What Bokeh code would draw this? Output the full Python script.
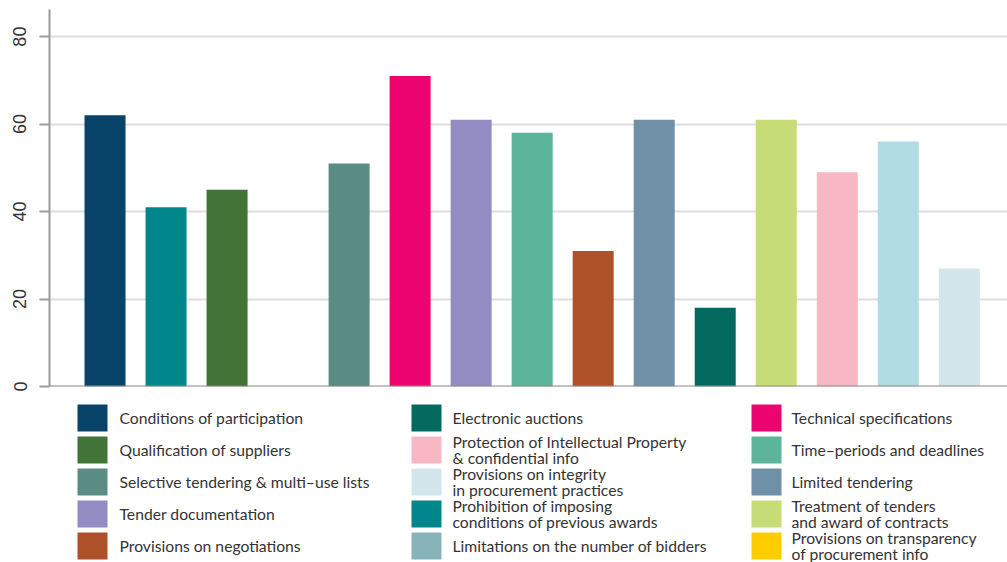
from bokeh.plotting import figure
from bokeh.models import Range1d, Span, ColumnDataSource, FixedTicker
from bokeh.layouts import column
from bokeh.embed import file_html
from bokeh.resources import INLINE
from bokeh.core.properties import value

# ---- data (bar order) ----
categories = [
    "Conditions of participation",
    "Prohibition of imposing conditions of previous awards",
    "Qualification of suppliers",
    "Provisions on transparency of procurement info",
    "Selective tendering & multi–use lists",
    "Technical specifications",
    "Tender documentation",
    "Time–periods and deadlines",
    "Provisions on negotiations",
    "Limited tendering",
    "Electronic auctions",
    "Treatment of tenders and award of contracts",
    "Protection of Intellectual Property & confidential info",
    "Limitations on the number of bidders",
    "Provisions on integrity in procurement practices",
]
values = [62, 41, 45, 0, 51, 71, 61, 58, 31, 61, 18, 61, 49, 56, 27]
bar_colors = ["#08436A", "#00868B", "#417436", "#FFCC00", "#5A8C83", "#EE0470",
              "#938CC3", "#5CB599", "#AF5128", "#7090A8", "#046A60", "#C6DC76",
              "#F8B8C3", "#AFDDE3", "#D3E6EC"]

# ---- legend (column-major, 3 columns x 5 rows) ----
legend_labels = [
    "Conditions of participation",
    "Qualification of suppliers",
    "Selective tendering & multi–use lists",
    "Tender documentation",
    "Provisions on negotiations",
    "Electronic auctions",
    "Protection of Intellectual Property\n& confidential info",
    "Provisions on integrity\nin procurement practices",
    "Prohibition of imposing\nconditions of previous awards",
    "Limitations on the number of bidders",
    "Technical specifications",
    "Time–periods and deadlines",
    "Limited tendering",
    "Treatment of tenders\nand award of contracts",
    "Provisions on transparency\nof procurement info",
]
legend_colors = ["#08436A", "#417436", "#5A8C83", "#938CC3", "#AF5128",
                 "#046A60", "#F8B8C3", "#D3E6EC", "#00868B", "#86B3B8",
                 "#EE0470", "#5CB599", "#7090A8", "#C6DC76", "#FFCC00"]

y_ticks = [0, 20, 40, 60, 80]

W = 1007
LEFT = 49

# ---- bar chart ----
src = ColumnDataSource(dict(x=list(range(len(values))), top=values, color=bar_colors, name=categories))

p = figure(width=W, height=392, output_backend="svg", toolbar_location=None,
           x_range=Range1d(-0.91, 14.79), y_range=Range1d(0, 86.2),
           min_border_left=LEFT, min_border_right=0, min_border_top=9, min_border_bottom=6)
p.xaxis.visible = False
p.xgrid.visible = False
p.outline_line_color = None
p.ygrid.grid_line_color = "#dedede"
p.ygrid.grid_line_width = 2
p.ygrid.ticker = FixedTicker(ticks=y_ticks)

p.vbar(x="x", top="top", width=0.672, fill_color="color", line_color=None, source=src)
p.add_layout(Span(location=0, dimension="width", line_color="#888888", line_width=2))

ya = p.yaxis[0]
ya.ticker = FixedTicker(ticks=y_ticks)
ya.axis_line_color = "#9a9a9a"
ya.axis_line_width = 2
ya.major_tick_line_color = "#9a9a9a"
ya.major_tick_line_width = 2
ya.major_tick_out = 10
ya.major_tick_in = 0
ya.minor_tick_line_color = None
ya.major_label_orientation = "vertical"
ya.major_label_standoff = 13
ya.major_label_text_font = "Liberation Sans"
ya.major_label_text_font_size = "18px"
ya.major_label_text_color = "#333333"

# ---- legend figure (data units == page pixels) ----
H = 170
lg = figure(width=W, height=H, output_backend="svg", toolbar_location=None,
            x_range=Range1d(LEFT, W), y_range=Range1d(H, 0),
            min_border_left=LEFT, min_border_right=0, min_border_top=0, min_border_bottom=0)
lg.axis.visible = False
lg.grid.visible = False
lg.outline_line_color = None

col_swatch_x = [77, 411, 751]
col_text_x = [119, 452, 791]
row_top0, row_step, sw_w, sw_h = 12, 32, 30, 27

sx, sy, tx = [], [], []
for i in range(len(legend_labels)):
    c, r = divmod(i, 5)
    sx.append(col_swatch_x[c] + sw_w / 2)
    sy.append(row_top0 + r * row_step + sw_h / 2)
    tx.append(col_text_x[c])

lsrc = ColumnDataSource(dict(sx=sx, sy=sy, tx=tx, label=legend_labels, color=legend_colors))
lg.rect(x="sx", y="sy", width=sw_w, height=sw_h, fill_color="color", line_color=None, source=lsrc)
lg.text(x="tx", y="sy", text="label", source=lsrc, text_baseline="middle", text_align="left",
        text_font=value("Lato"), text_font_size="15.7px", text_color="#333333", text_line_height=0.88)

layout = column(p, lg, spacing=0)
open("out.html", "w").write(file_html(layout, INLINE))
